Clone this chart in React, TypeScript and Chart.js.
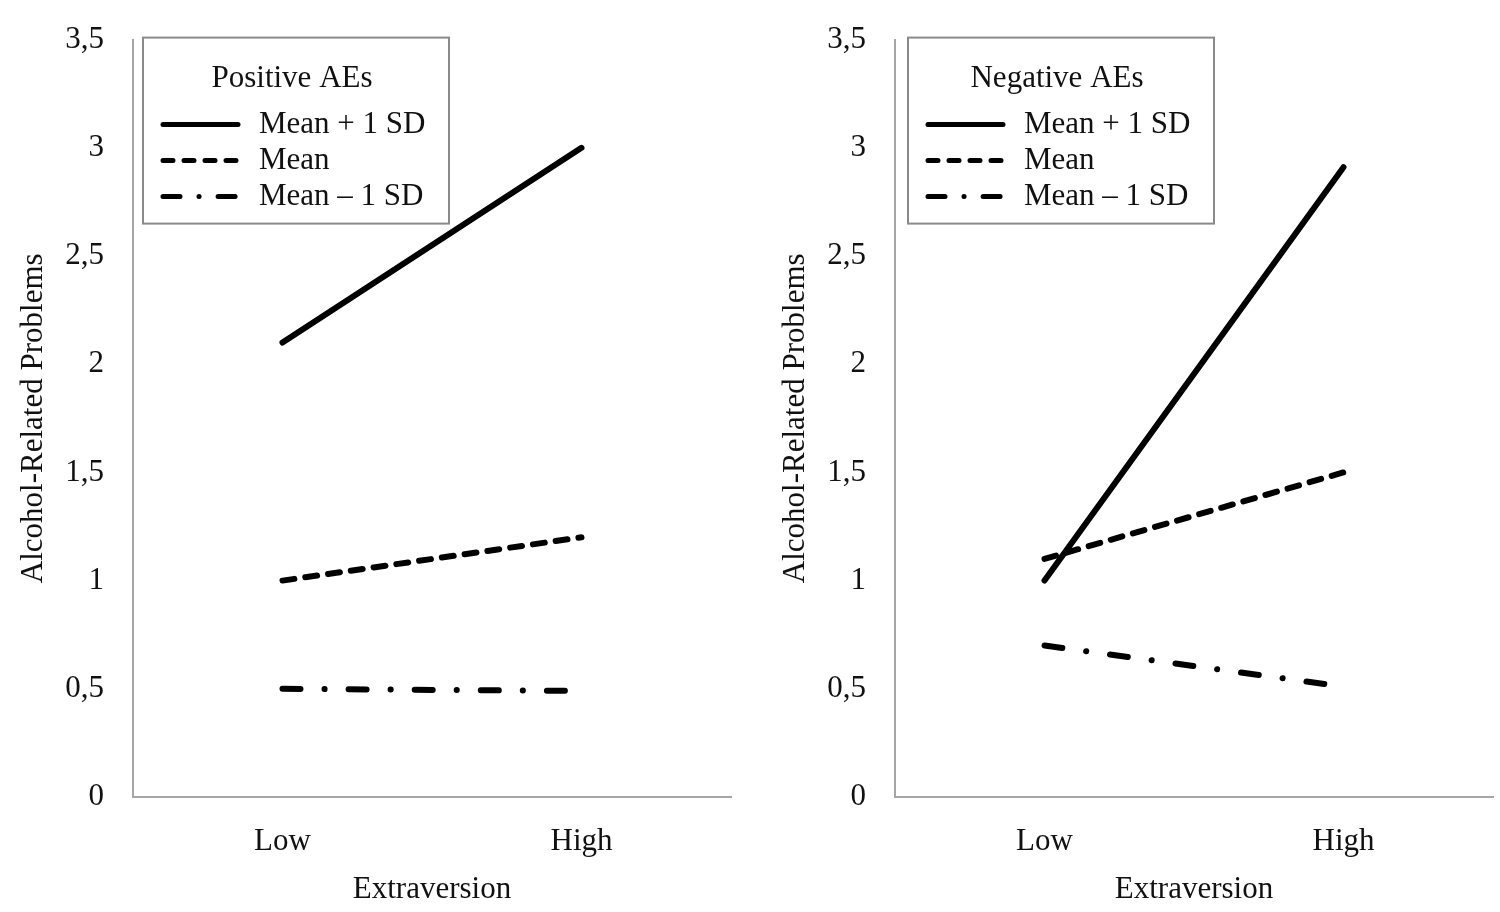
import { useEffect, useRef } from 'react'
import { Chart, registerables } from 'chart.js'
import type { ChartConfiguration, Plugin } from 'chart.js'

Chart.register(...registerables)

const categories = ['Low', 'High']
const seriesLabels = ['Mean + 1 SD', 'Mean', 'Mean – 1 SD']
const yTickLabels = ['0', '0,5', '1', '1,5', '2', '2,5', '3', '3,5']

const positivePlus = [2.1, 3.0]
const positiveMean = [1.0, 1.2]
const positiveMinus = [0.5, 0.49]

const negativePlus = [1.0, 2.91]
const negativeMean = [1.1, 1.5]
const negativeMinus = [0.7, 0.51]

const FONT = '"Liberation Serif", "Times New Roman", serif'
const SIZE = 31
const dashes: number[][] = [[], [12, 11], [18, 24, 0.1, 24]]
const legendDashes: number[][] = [[], [10, 11], [17, 19, 0.1, 19]]

// legend box drawn inside the plot area
const boxLegend: Plugin<'line'> = {
  id: 'boxLegend',
  afterDatasetsDraw(chart, _args, opts: any) {
    const { ctx, chartArea } = chart
    const x0 = chartArea.left + opts.offsetX
    const y0 = chartArea.top - 2
    const w = 306
    const h = 186
    ctx.save()
    ctx.fillStyle = '#fff'
    ctx.fillRect(x0, y0, w, h)
    ctx.strokeStyle = '#8a8a8a'
    ctx.lineWidth = 2
    ctx.strokeRect(x0, y0, w, h)

    ctx.fillStyle = '#111'
    ctx.font = `${SIZE}px ${FONT}`
    ctx.textBaseline = 'middle'
    ctx.textAlign = 'center'
    ctx.fillText(opts.title, x0 + w / 2 - 4, y0 + 41)

    ctx.textAlign = 'left'
    chart.data.datasets.forEach((ds, i) => {
      const y = y0 + 87 + i * 36
      ctx.beginPath()
      ctx.setLineDash(legendDashes[i])
      ctx.lineCap = 'round'
      ctx.lineWidth = 5
      ctx.strokeStyle = '#000'
      ctx.moveTo(x0 + 20, y)
      ctx.lineTo(x0 + 95, y)
      ctx.stroke()
      ctx.setLineDash([])
      ctx.fillText(ds.label as string, x0 + 116, y)
    })
    ctx.restore()
  },
}

function Panel({ title, values, offsetX }: { title: string; values: number[][]; offsetX: number }) {
  const canvasRef = useRef<HTMLCanvasElement>(null)

  useEffect(() => {
    if (!canvasRef.current) return
    const config: ChartConfiguration<'line'> = {
      type: 'line',
      data: {
        labels: categories,
        datasets: values.map((v, i) => ({
          label: seriesLabels[i],
          data: v,
          borderColor: '#000',
          borderWidth: 6,
          borderDash: dashes[i],
          borderCapStyle: 'round' as const,
          pointRadius: 0,
          fill: false,
          tension: 0,
        })),
      },
      options: {
        responsive: false,
        animation: false,
        layout: { padding: { top: 37, right: 29, left: 0, bottom: 0 } },
        plugins: {
          legend: { display: false },
          tooltip: { enabled: false },
          boxLegend: { title, offsetX },
        } as any,
        scales: {
          x: {
            type: 'category',
            offset: true,
            grid: { display: false },
            border: { display: true, color: '#a6a6a6', width: 2 },
            ticks: { color: '#111', font: { family: FONT, size: SIZE }, padding: 18 },
            title: {
              display: true,
              text: 'Extraversion',
              color: '#111',
              font: { family: FONT, size: SIZE },
              padding: { top: 0, bottom: 4 },
            },
            afterFit: (s: any) => { s.height = 115 },
          },
          y: {
            type: 'linear',
            min: 0,
            max: 3.5,
            grid: { display: false },
            border: { display: true, color: '#a6a6a6', width: 2 },
            ticks: {
              stepSize: 0.5,
              color: '#111',
              font: { family: FONT, size: SIZE },
              padding: 21,
              callback: (_v, i) => yTickLabels[i],
            },
            title: {
              display: true,
              text: 'Alcohol-Related Problems',
              color: '#111',
              font: { family: FONT, size: SIZE },
              padding: { top: 15, bottom: 0 },
            },
            afterFit: (s: any) => { s.width = 133 },
          },
        },
      },
      plugins: [boxLegend],
    }
    const chart = new Chart(canvasRef.current, config)
    return () => chart.destroy()
  }, [title, values, offsetX])

  return <canvas ref={canvasRef} width={760} height={912} style={{ display: 'block', width: 760, height: 912 }} />
}

export default function App() {
  return (
    <div style={{ position: 'fixed', left: 0, top: 0, width: 1500, height: 912, background: '#fff', overflow: 'hidden' }}>
      <div style={{ position: 'absolute', left: 0, top: 0 }}>
        <Panel title="Positive AEs" values={[positivePlus, positiveMean, positiveMinus]} offsetX={10} />
      </div>
      <div style={{ position: 'absolute', left: 762, top: 0 }}>
        <Panel title="Negative AEs" values={[negativePlus, negativeMean, negativeMinus]} offsetX={13} />
      </div>
    </div>
  )
}
